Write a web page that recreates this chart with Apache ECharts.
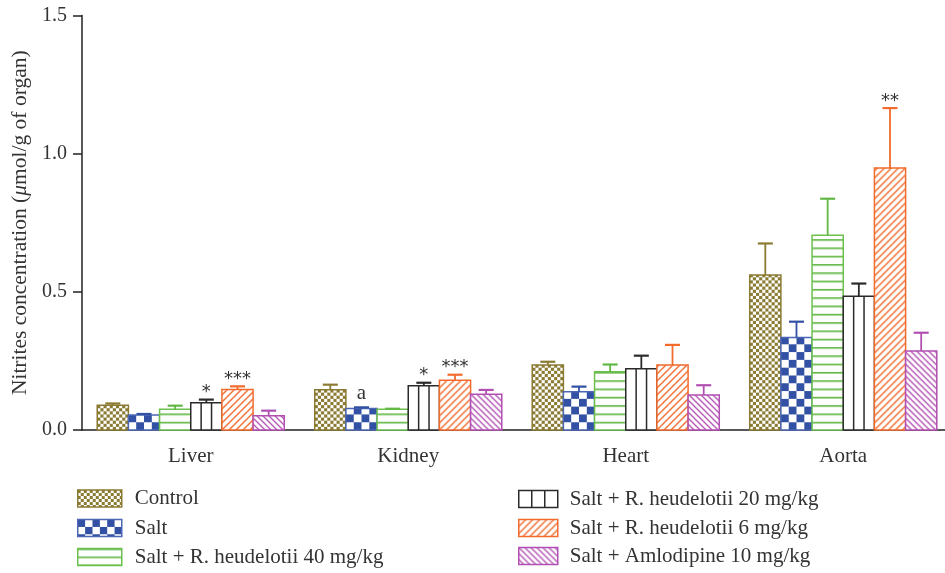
<!DOCTYPE html>
<html>
<head>
<meta charset="utf-8">
<script src="https://cdn.jsdelivr.net/npm/echarts@6/dist/echarts.min.js"></script>
<style>
  html, body { margin: 0; padding: 0; background: #fff; overflow: hidden; }
  #chart { width: 960px; height: 573px; }
</style>
</head>
<body>
<div id="chart"></div>
<script>
// Organs on the x axis
const organs = ['Liver', 'Kidney', 'Heart', 'Aorta'];

// Treatment groups (legend order)
const groupNames = [
  'Control',
  'Salt',
  'Salt + R. heudelotii 40 mg/kg',
  'Salt + R. heudelotii 20 mg/kg',
  'Salt + R. heudelotii 6 mg/kg',
  'Salt + Amlodipine 10 mg/kg'
];

// Mean nitrite concentration (µmol/g of organ), one value per organ
const controlMean = [0.090, 0.146, 0.235, 0.561];
const saltMean    = [0.054, 0.078, 0.138, 0.335];
const rh40Mean    = [0.075, 0.075, 0.211, 0.705];
const rh20Mean    = [0.099, 0.160, 0.222, 0.484];
const rh6Mean     = [0.147, 0.180, 0.235, 0.948];
const amloMean    = [0.052, 0.129, 0.127, 0.286];

// Standard error of the mean, one value per organ
const controlSem = [0.006, 0.018, 0.012, 0.114];
const saltSem    = [0.004, 0.004, 0.019, 0.057];
const rh40Sem    = [0.013, 0.002, 0.026, 0.132];
const rh20Sem    = [0.011, 0.011, 0.047, 0.046];
const rh6Sem     = [0.011, 0.020, 0.073, 0.217];
const amloSem    = [0.018, 0.016, 0.035, 0.066];

// Significance marks shown above the error bars
const controlMarks = ['', '', '', ''];
const saltMarks    = ['', 'a', '', ''];
const rh40Marks    = ['', '', '', ''];
const rh20Marks    = ['*', '*', '', ''];
const rh6Marks     = ['***', '***', '', '**'];
const amloMarks    = ['', '', '', ''];

// Value axis ticks
const yMin = 0;
const yMax = 1.5;
const yStep = 0.5;

const means = [controlMean, saltMean, rh40Mean, rh20Mean, rh6Mean, amloMean];
const sems  = [controlSem, saltSem, rh40Sem, rh20Sem, rh6Sem, amloSem];
const marks = [controlMarks, saltMarks, rh40Marks, rh20Marks, rh6Marks, amloMarks];

const FONT = '"Liberation Serif", "Times New Roman", serif';
const STAR_FONT = '"DejaVu Sans", sans-serif';
const TEXT = '#333333';
const AXIS = '#222222';

const OLIVE  = '#8a7a32';
const BLUE   = '#3251a4';
const GREEN  = '#62b845';
const BLACK  = '#2a2a2a';
const ORANGE = '#f26b2c';
const PURPLE = '#b24fb2';

function tile(w, h, draw) {
  const c = document.createElement('canvas');
  c.width = w; c.height = h;
  const g = c.getContext('2d');
  g.fillStyle = '#ffffff';
  g.fillRect(0, 0, w, h);
  draw(g, w, h);
  return c;
}

function checker(cell, color) {
  return tile(cell * 2, cell * 2, (g) => {
    g.fillStyle = color;
    g.fillRect(0, 0, cell, cell);
    g.fillRect(cell, cell, cell, cell);
  });
}

const tiles = {
  control: checker(3, OLIVE),
  salt: checker(8, BLUE),
  rh40: tile(4, 8, (g) => { g.fillStyle = GREEN; g.fillRect(0, 0, 4, 1.6); }),
  rh6: tile(7, 7, (g, s) => {
    g.strokeStyle = ORANGE; g.lineWidth = 1.4;
    g.beginPath();
    g.moveTo(-1, s + 1); g.lineTo(s + 1, -1);
    g.moveTo(-1, 1); g.lineTo(1, -1);
    g.moveTo(s - 1, s + 1); g.lineTo(s + 1, s - 1);
    g.stroke();
  }),
  amlo: tile(6, 6, (g, s) => {
    g.strokeStyle = PURPLE; g.lineWidth = 1.3;
    g.beginPath();
    g.moveTo(-1, -1); g.lineTo(s + 1, s + 1);
    g.moveTo(s - 1, -1); g.lineTo(s + 1, 1);
    g.moveTo(-1, s - 1); g.lineTo(1, s + 1);
    g.stroke();
  })
};

// Per-group drawing style
const styles = [
  { stroke: OLIVE,  tile: tiles.control, cells: 10, legendScale: 1 },
  { stroke: '#4a66b4', tile: tiles.salt, cells: 4, legendScale: 0.92 },
  { stroke: '#6cc04e', tile: tiles.rh40, period: 8.3 },
  { stroke: BLACK,  tile: null, columns: 3 },
  { stroke: ORANGE, tile: tiles.rh6 },
  { stroke: PURPLE, tile: tiles.amlo }
];
const capColors = [OLIVE, BLUE, GREEN, BLACK, ORANGE, PURPLE];

function fillFor(si, x0, yBase, w) {
  const st = styles[si];
  if (!st.tile) return '#ffffff';
  const p = { image: st.tile, repeat: 'repeat', x: x0, y: yBase };
  if (st.cells) {
    const s = w / (st.cells * st.tile.width / 2);
    p.scaleX = s; p.scaleY = s;
  }
  if (st.period) { p.scaleY = st.period / st.tile.height; }
  return p;
}

function makeRenderer(si) {
  return function (params, api) {
    const cat = api.value(0);
    const val = api.value(1);
    const err = api.value(2);
    const base = api.coord([cat, 0]);
    const top = api.coord([cat, val]);
    const cap = api.coord([cat, val + err]);
    const band = api.size([1, 0])[0];
    const w = band * 0.86 / groupNames.length;
    const x0 = base[0] - w * groupNames.length / 2 + si * w;
    const cx = x0 + w / 2;
    const st = styles[si];
    const color = capColors[si];
    const children = [];

    children.push({
      type: 'rect',
      shape: { x: x0, y: top[1], width: w, height: base[1] - top[1] },
      style: { fill: fillFor(si, x0, base[1], w), stroke: st.stroke, lineWidth: 1.5 }
    });
    if (st.columns) {
      for (let k = 1; k < st.columns; k++) {
        const lx = x0 + w * k / st.columns;
        children.push({
          type: 'line',
          shape: { x1: lx, y1: top[1], x2: lx, y2: base[1] },
          style: { stroke: st.stroke, lineWidth: 1.5 }
        });
      }
    }
    // error bar (upper half) with cap
    children.push({
      type: 'line',
      shape: { x1: cx, y1: top[1], x2: cx, y2: cap[1] },
      style: { stroke: color, lineWidth: 1.8 }
    });
    children.push({
      type: 'line',
      shape: { x1: cx - 7.5, y1: cap[1], x2: cx + 7.5, y2: cap[1] },
      style: { stroke: color, lineWidth: 2.2 }
    });

    const mark = marks[si][cat];
    if (mark) {
      const isStar = mark.indexOf('*') >= 0;
      children.push({
        type: 'text',
        style: {
          text: mark,
          x: cx,
          y: cap[1] - (isStar ? 7 : 14),
          align: 'center',
          verticalAlign: 'middle',
          font: isStar ? '18px ' + STAR_FONT : '21px ' + FONT,
          fill: TEXT
        }
      });
    }
    return { type: 'group', children: children };
  };
}

const series = groupNames.map((name, si) => ({
  name: name,
  type: 'custom',
  renderItem: makeRenderer(si),
  encode: { x: 0, y: 1 },
  data: organs.map((o, i) => [i, means[si][i], sems[si][i]]),
  itemStyle: { color: capColors[si] },
  z: 2
}));

function legendItem(si) {
  const st = styles[si];
  if (st.columns) {
    return {
      name: groupNames[si],
      icon: 'path://M0 0H39V17H0Z M13 0V17 M26 0V17',
      itemStyle: { color: '#ffffff', borderColor: st.stroke, borderWidth: 1.5 }
    };
  }
  const fill = { image: st.tile, repeat: 'repeat' };
  if (st.legendScale) { fill.scaleX = st.legendScale; fill.scaleY = st.legendScale; }
  return {
    name: groupNames[si],
    icon: 'rect',
    itemStyle: { color: fill, borderColor: st.stroke, borderWidth: 1.5 }
  };
}

// Two legend columns, one entry per legend box
const legendSlots = [
  { left: 77,  top: 488,   width: 44, pad: 8 },
  { left: 77,  top: 517.5, width: 44, pad: 8 },
  { left: 77,  top: 546.5, width: 44, pad: 8 },
  { left: 518, top: 488.5, width: 39, pad: 7 },
  { left: 518, top: 517.5, width: 39, pad: 7 },
  { left: 518, top: 545.5, width: 39, pad: 7 }
];

const legends = legendSlots.map((slot, si) => ({
  orient: 'vertical',
  left: slot.left,
  top: slot.top,
  padding: 0,
  itemWidth: slot.width,
  itemHeight: 17,
  selectedMode: false,
  textStyle: { fontFamily: FONT, fontSize: 21, color: TEXT, padding: [0, 0, 0, slot.pad] },
  data: [legendItem(si)]
}));

const option = {
  animation: false,
  backgroundColor: '#ffffff',
  grid: { left: 82, top: 15.5, width: 870, height: 414.5, containLabel: false },
  xAxis: {
    type: 'category',
    data: organs,
    axisLine: { lineStyle: { color: AXIS, width: 1.5 } },
    axisTick: { alignWithLabel: true, length: 9, lineStyle: { color: AXIS, width: 1.5 } },
    axisLabel: { margin: 16, fontFamily: FONT, fontSize: 21, color: TEXT }
  },
  yAxis: {
    type: 'value',
    min: yMin,
    max: yMax,
    interval: yStep,
    name: '{t|Nitrites concentration (}{m|μ}{t|mol/g of organ)}',
    nameLocation: 'middle',
    nameGap: 40,
    nameRotate: 90,
    nameTextStyle: {
      rich: {
        t: { fontFamily: FONT, fontSize: 21.5, color: TEXT },
        m: { fontFamily: FONT, fontSize: 21.5, color: TEXT, fontStyle: 'italic' }
      }
    },
    axisLine: { show: true, lineStyle: { color: AXIS, width: 1.5 } },
    axisTick: { show: true, length: 9, lineStyle: { color: AXIS, width: 1.5 } },
    splitLine: { show: false },
    axisLabel: {
      margin: 15,
      fontFamily: FONT,
      fontSize: 20,
      color: TEXT,
      formatter: (v) => v.toFixed(1)
    }
  },
  legend: legends,
  series: series
};

const chart = echarts.init(document.getElementById('chart'), null, { renderer: 'canvas' });
chart.setOption(option);
</script>
</body>
</html>
